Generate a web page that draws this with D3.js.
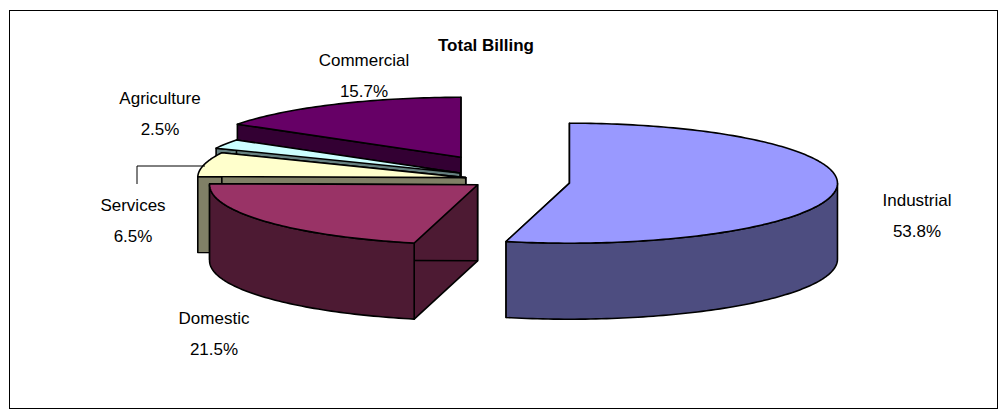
<!DOCTYPE html>
<html><head><meta charset="utf-8">
<script src="https://cdn.jsdelivr.net/npm/d3@7/dist/d3.min.js"></script>
<style>body{margin:0;background:#fff}svg{font-family:Arial,"Liberation Sans",sans-serif}</style>
</head><body><svg id="c" width="1004" height="419"></svg>
<script>
const categories = ["Industrial","Domestic","Services","Agriculture","Commercial"];
const values = [53.8,21.5,6.5,2.5,15.7];
const topColors = ["#9999FF","#993366","#FFFFCC","#CCFFFF","#660066"];
const sideColors = ["#4D4D80","#4D1A33","#808066","#668080","#330033"];
const labelPos = [[917,206],[214,324],[133,211],[160,104],[364,66]];

const svg = d3.select("#c");
svg.append("rect").attr("x",9.5).attr("y",10.5).attr("width",988).attr("height",398).attr("fill","#fff").attr("stroke","#000");
svg.append("text").attr("x",486).attr("y",51).attr("text-anchor","middle").attr("font-weight","bold").attr("font-size",17).text("Total Billing");

const cx=495, cy=180, rx=268, ry=60, h=76;
const explode=[75,22,30,40,72];
const rot=0;
const pie = d3.pie().sort(null).value(d=>d).startAngle(rot).endAngle(2*Math.PI+rot);
const arcs = pie(values);
const g = svg.append("g");
function pt(c,a,r=1,dy=0){return [c[0]+rx*r*Math.sin(a), c[1]-ry*r*Math.cos(a)+dy];}
function arcPts(c,a0,a1,dy){const n=Math.max(2,Math.ceil((a1-a0)/0.02));return d3.range(n+1).map(i=>pt(c,a0+(a1-a0)*i/n,1,dy));}
const line = d3.line();
const order = arcs.map((d,i)=>i).sort((a,b)=>{
  const m=i=>(arcs[i].startAngle+arcs[i].endAngle)/2;
  return Math.cos(m(b))-Math.cos(m(a));});
order.forEach(i=>{
  const d=arcs[i], mid=(d.startAngle+d.endAngle)/2;
  const c=[cx+explode[i]*Math.sin(mid), cy-explode[i]*Math.cos(mid)*ry/rx*1.6];
  const sg=g.append("g");
  [d.startAngle,d.endAngle].forEach(a=>{
    const p=pt(c,a);
    sg.append("path").attr("d",line([c,p,[p[0],p[1]+h],[c[0],c[1]+h]])+"Z")
      .attr("fill",sideColors[i]).attr("stroke","#000").attr("stroke-width",1.6).attr("stroke-linejoin","round");
  });
  const a0=Math.max(d.startAngle,Math.PI/2), a1=Math.min(d.endAngle,3*Math.PI/2);
  if(a1>a0){
    const top=arcPts(c,a0,a1,0), bot=arcPts(c,a0,a1,h).reverse();
    sg.append("path").attr("d",line(top.concat(bot))+"Z")
      .attr("fill",sideColors[i]).attr("stroke","#000").attr("stroke-width",1.6).attr("stroke-linejoin","round");
  }
  const tp=[c].concat(arcPts(c,d.startAngle,d.endAngle,0));
  sg.append("path").attr("d",line(tp)+"Z").attr("fill",topColors[i]).attr("stroke","#000").attr("stroke-width",1.6).attr("stroke-linejoin","round");
});
svg.append("path").attr("d","M137,184V166H205").attr("fill","none").attr("stroke","#000");
categories.forEach((n,i)=>{
  const t=svg.append("text").attr("x",labelPos[i][0]).attr("y",labelPos[i][1]).attr("text-anchor","middle").attr("font-size",17).attr("fill","#000");
  t.append("tspan").attr("x",labelPos[i][0]).attr("dy",0).text(n);
  t.append("tspan").attr("x",labelPos[i][0]).attr("dy",31).text(values[i].toFixed(1)+"%");
});
</script></body></html>
